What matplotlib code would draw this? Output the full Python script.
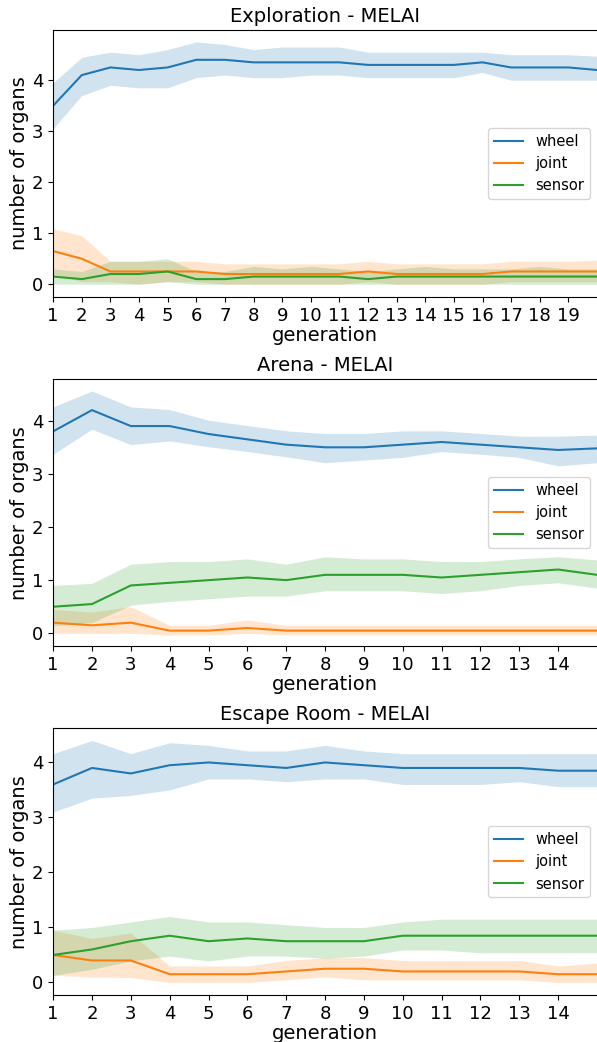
import numpy as np
import matplotlib.pyplot as plt

# ---- Exploration (20 generations) ----
expl_gen = list(range(1, 21))
expl_wheel = [3.5, 4.1, 4.25, 4.2, 4.25, 4.4, 4.4, 4.35, 4.35, 4.35, 4.35, 4.3, 4.3, 4.3, 4.3, 4.35, 4.25, 4.25, 4.25, 4.2]
expl_wheel_lo = [3.05, 3.7, 3.9, 3.85, 3.85, 4.05, 4.1, 4.05, 4.05, 4.1, 4.1, 4.05, 4.05, 4.05, 4.05, 4.15, 4.0, 4.0, 4.0, 4.0]
expl_wheel_hi = [3.95, 4.45, 4.55, 4.5, 4.6, 4.75, 4.7, 4.6, 4.65, 4.65, 4.65, 4.55, 4.55, 4.55, 4.55, 4.55, 4.5, 4.5, 4.5, 4.47]
expl_joint = [0.65, 0.5, 0.25, 0.25, 0.25, 0.25, 0.2, 0.2, 0.2, 0.2, 0.2, 0.25, 0.2, 0.2, 0.2, 0.2, 0.25, 0.25, 0.25, 0.25]
expl_joint_lo = [0.2, 0.05, 0.05, 0.0, 0.05, 0.05, 0.0, 0.0, 0.0, 0.0, 0.0, 0.05, 0.0, 0.0, 0.0, 0.0, 0.05, 0.05, 0.05, 0.05]
expl_joint_hi = [1.09, 0.95, 0.45, 0.45, 0.45, 0.45, 0.4, 0.4, 0.4, 0.4, 0.4, 0.45, 0.4, 0.4, 0.4, 0.4, 0.45, 0.45, 0.45, 0.47]
expl_sensor = [0.15, 0.1, 0.2, 0.2, 0.25, 0.1, 0.1, 0.15, 0.15, 0.15, 0.15, 0.1, 0.15, 0.15, 0.15, 0.15, 0.15, 0.15, 0.15, 0.15]
expl_sensor_lo = [0.0, 0.0, 0.0, 0.0, 0.05, 0.0, 0.0, 0.0, 0.0, 0.0, 0.0, 0.0, 0.0, 0.0, 0.0, 0.0, 0.0, 0.0, 0.0, 0.0]
expl_sensor_hi = [0.3, 0.25, 0.45, 0.45, 0.5, 0.25, 0.25, 0.35, 0.3, 0.35, 0.3, 0.25, 0.3, 0.35, 0.3, 0.3, 0.3, 0.35, 0.3, 0.3]

# ---- Arena (15 generations) ----
arena_gen = list(range(1, 16))
arena_wheel = [3.8, 4.2, 3.9, 3.9, 3.75, 3.65, 3.55, 3.5, 3.5, 3.55, 3.6, 3.55, 3.5, 3.45, 3.48]
arena_wheel_lo = [3.37, 3.84, 3.55, 3.62, 3.51, 3.42, 3.32, 3.21, 3.26, 3.31, 3.42, 3.37, 3.31, 3.15, 3.21]
arena_wheel_hi = [4.26, 4.56, 4.26, 4.21, 4.01, 3.91, 3.81, 3.76, 3.76, 3.81, 3.81, 3.76, 3.71, 3.71, 3.73]
arena_joint = [0.2, 0.15, 0.2, 0.05, 0.05, 0.1, 0.05, 0.05, 0.05, 0.05, 0.05, 0.05, 0.05, 0.05, 0.05]
arena_joint_lo = [0.0, 0.0, 0.0, -0.03, -0.03, 0.0, -0.03, -0.03, -0.03, -0.03, -0.03, -0.03, -0.03, -0.03, -0.03]
arena_joint_hi = [0.45, 0.4, 0.5, 0.15, 0.15, 0.25, 0.15, 0.15, 0.15, 0.15, 0.15, 0.15, 0.15, 0.15, 0.15]
arena_sensor = [0.5, 0.55, 0.9, 0.95, 1.0, 1.05, 1.0, 1.1, 1.1, 1.1, 1.05, 1.1, 1.15, 1.2, 1.1]
arena_sensor_lo = [0.14, 0.2, 0.53, 0.6, 0.65, 0.7, 0.7, 0.8, 0.8, 0.8, 0.75, 0.8, 0.9, 0.95, 0.85]
arena_sensor_hi = [0.9, 0.94, 1.3, 1.35, 1.35, 1.4, 1.3, 1.44, 1.4, 1.4, 1.35, 1.35, 1.4, 1.44, 1.38]

# ---- Escape Room (15 generations) ----
esc_gen = list(range(1, 16))
esc_wheel = [3.6, 3.9, 3.8, 3.95, 4.0, 3.95, 3.9, 4.0, 3.95, 3.9, 3.9, 3.9, 3.9, 3.85, 3.85]
esc_wheel_lo = [3.1, 3.35, 3.4, 3.5, 3.7, 3.7, 3.65, 3.7, 3.7, 3.6, 3.6, 3.6, 3.65, 3.56, 3.56]
esc_wheel_hi = [4.16, 4.4, 4.16, 4.36, 4.31, 4.21, 4.21, 4.31, 4.21, 4.16, 4.16, 4.16, 4.16, 4.16, 4.16]
esc_joint = [0.5, 0.4, 0.4, 0.15, 0.15, 0.15, 0.2, 0.25, 0.25, 0.2, 0.2, 0.2, 0.2, 0.15, 0.15]
esc_joint_lo = [0.13, 0.1, 0.09, 0.0, 0.0, 0.0, 0.05, 0.1, 0.05, 0.05, 0.05, 0.05, 0.05, 0.0, 0.0]
esc_joint_hi = [0.95, 0.8, 0.9, 0.3, 0.3, 0.3, 0.4, 0.45, 0.45, 0.4, 0.4, 0.4, 0.4, 0.3, 0.35]
esc_sensor = [0.5, 0.6, 0.75, 0.85, 0.75, 0.8, 0.75, 0.75, 0.75, 0.85, 0.85, 0.85, 0.85, 0.85, 0.85]
esc_sensor_lo = [0.13, 0.24, 0.39, 0.48, 0.39, 0.48, 0.48, 0.44, 0.48, 0.59, 0.59, 0.54, 0.54, 0.54, 0.54]
esc_sensor_hi = [0.95, 1.0, 1.1, 1.2, 1.1, 1.1, 1.05, 1.0, 1.0, 1.1, 1.15, 1.15, 1.15, 1.15, 1.15]

organs = ["wheel", "joint", "sensor"]
colors = ["#1f77b4", "#ff7f0e", "#2ca02c"]


def draw_panel(ax, title, gen, series, n_ticks, ylim):
    for name, col, (mean, lo, hi) in zip(organs, colors, series):
        ax.fill_between(gen, lo, hi, color=col, alpha=0.2, linewidth=0)
        ax.plot(gen, mean, color=col, linewidth=1.5, label=name)
    ax.set_xlim(gen[0], gen[-1])
    ax.set_ylim(*ylim)
    ax.set_xticks(range(1, n_ticks + 1))
    ax.set_yticks([0, 1, 2, 3, 4])
    ax.tick_params(labelsize=13)
    ax.set_title(title, fontsize=14)
    ax.set_xlabel("generation", fontsize=14, labelpad=1)
    ax.set_ylabel("number of organs", fontsize=14, labelpad=2)
    ax.spines['right'].set_visible(False)
    ax.legend(loc="center right", fontsize=10.5)


fig = plt.figure(figsize=(5.97, 10.42), dpi=100)
ax1 = fig.add_axes([0.089, 0.715, 0.911, 0.256])
ax2 = fig.add_axes([0.089, 0.380, 0.911, 0.256])
ax3 = fig.add_axes([0.089, 0.045, 0.911, 0.256])

draw_panel(ax1, "Exploration - MELAI", expl_gen,
           [(expl_wheel, expl_wheel_lo, expl_wheel_hi),
            (expl_joint, expl_joint_lo, expl_joint_hi),
            (expl_sensor, expl_sensor_lo, expl_sensor_hi)], 19, (-0.25, 4.98))
draw_panel(ax2, "Arena - MELAI", arena_gen,
           [(arena_wheel, arena_wheel_lo, arena_wheel_hi),
            (arena_joint, arena_joint_lo, arena_joint_hi),
            (arena_sensor, arena_sensor_lo, arena_sensor_hi)], 14, (-0.24, 4.78))
draw_panel(ax3, "Escape Room - MELAI", esc_gen,
           [(esc_wheel, esc_wheel_lo, esc_wheel_hi),
            (esc_joint, esc_joint_lo, esc_joint_hi),
            (esc_sensor, esc_sensor_lo, esc_sensor_hi)], 14, (-0.23, 4.62))

fig.savefig("out.png", dpi=100)
